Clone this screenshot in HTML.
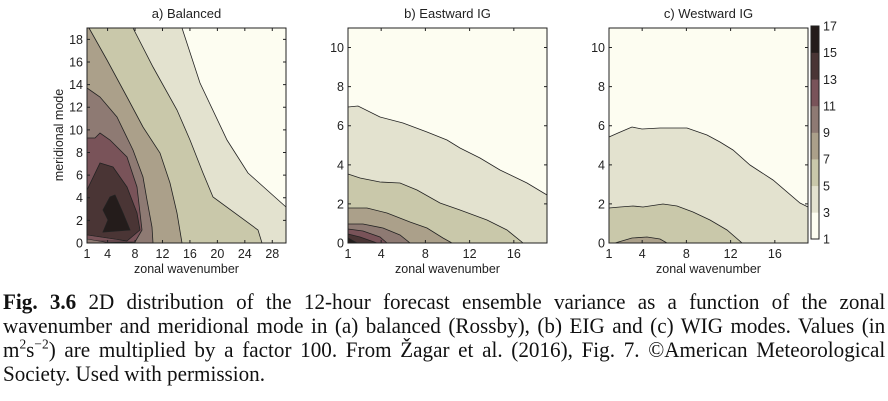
<!DOCTYPE html>
<html><head><meta charset="utf-8"><style>
body{margin:0;width:888px;height:401px;background:#fff;overflow:hidden;position:relative}
svg{position:absolute;left:0;top:0}
svg text{font-family:"Liberation Sans",sans-serif;fill:#222}
.cap{position:absolute;left:3px;width:919px;height:24px;overflow:hidden;transform:scaleX(0.96);transform-origin:0 0;font-family:"Liberation Serif",serif;font-size:22px;line-height:24px;color:#111;white-space:nowrap}
.j{text-align:justify;text-align-last:justify;white-space:normal}
</style></head><body>
<svg id="s" width="888" height="280" viewBox="0 0 888 280">
<g id="pa">
<rect x="87" y="28" width="199" height="215" fill="#fdfdf1"/>
<polygon fill="#e3e2cf" stroke="#222" stroke-width="0.8" points="182,28 200,83 227,140 248,173 286,207 286,243 87,243 87,28"/>
<polygon fill="#c9c8aa" stroke="#222" stroke-width="0.8" points="133,28 153,67 177,110 190,140 203,173 213,197 258,230 262,243 87,243 87,28"/>
<polygon fill="#aba08a" stroke="#222" stroke-width="0.8" points="89,28 107,60 127,97 143,127 160,153 170,183 177,213 182,243 87,243 87,28"/>
<polygon fill="#8e7a73" stroke="#222" stroke-width="0.8" points="87,88 100,97 117,117 133,150 143,177 147,200 152,227 153,243 87,243"/>
<polygon fill="#795359" stroke="#222" stroke-width="0.8" points="87,138 95,138 100,133 110,140 127,157 137,187 142,230 135,242 87,243"/>
<polygon fill="#4a3535" stroke="#222" stroke-width="0.8" points="87,190 100,163 113,167 127,187 137,213 140,230 127,241 87,235"/>
<polygon fill="#241c1b" stroke="#222" stroke-width="0.8" points="103,210 110,197 115,195 123,213 130,230 103,232 108,220"/>
<polygon fill="#795359" stroke="#222" stroke-width="0.6" points="87,235 127,241 87,241"/>
<polygon fill="#8e7a73" stroke="#222" stroke-width="0.6" points="87,239 110,243 87,243"/>
</g>
<g id="pb">
<rect x="348" y="28" width="199" height="215" fill="#fdfdf1"/>
<polygon fill="#e3e2cf" stroke="#222" stroke-width="0.8" points="348,107 358,106 380,117 403,123 427,132 447,140 460,148 480,158 500,170 527,183 547,195 547,243 348,243"/>
<polygon fill="#c9c8aa" stroke="#222" stroke-width="0.8" points="348,174 360,178 380,182 400,183 417,190 440,203 460,210 487,220 507,230 523,243 348,243"/>
<polygon fill="#aba08a" stroke="#222" stroke-width="0.8" points="348,208 367,208 387,213 410,222 427,228 443,238 452,243 348,243"/>
<polygon fill="#8e7a73" stroke="#222" stroke-width="0.8" points="348,224 363,224 383,228 400,235 410,243 348,243"/>
<polygon fill="#795359" stroke="#222" stroke-width="0.8" points="348,229 363,231 380,237 387,243 348,243"/>
<polygon fill="#4a3535" stroke="#222" stroke-width="0.8" points="348,234 360,237 377,243 348,243"/>
<polygon fill="#241c1b" stroke="#222" stroke-width="0.8" points="348,238 357,243 348,243"/>
</g>
<g id="pc">
<rect x="609" y="28" width="199" height="215" fill="#fdfdf1"/>
<polygon fill="#e3e2cf" stroke="#222" stroke-width="0.8" points="609,137 618,133 632,127 642,129 660,128 687,128 707,135 720,142 733,150 750,165 773,180 800,203 808,207 808,243 609,243"/>
<polygon fill="#c9c8aa" stroke="#222" stroke-width="0.8" points="609,208 620,207 633,206 643,207 663,204 677,206 693,212 710,220 727,230 742,243 609,243"/>
<polygon fill="#aba08a" stroke="#222" stroke-width="0.8" points="615,243 632,238 647,237 660,239 667,243"/>
</g>
<g id="cb"></g>
<g id="ax" fill="none" stroke="#222" stroke-width="1"></g>
<g id="tx" font-size="12.5"></g>
</svg>
<div class="cap j" style="top:290px"><b>Fig. 3.6</b> 2D distribution of the 12-hour forecast ensemble variance as a function of the zonal</div>
<div class="cap j" style="top:314px">wavenumber and meridional mode in (a) balanced (Rossby), (b) EIG and (c) WIG modes. Values (in</div>
<div class="cap j" style="top:338px">m<sup style="font-size:14px;line-height:0">2</sup>s<sup style="font-size:14px;line-height:0">−2</sup>) are multiplied by a factor 100. From Žagar et al. (2016), Fig. 7. ©American Meteorological</div>
<div class="cap" style="top:362px">Society. Used with permission.</div>
<script>
var NS="http://www.w3.org/2000/svg";
function el(p,t,a,txt){var e=document.createElementNS(NS,t);for(var k in a)e.setAttribute(k,a[k]);if(txt!==undefined)e.textContent=txt;document.getElementById(p).appendChild(e);return e;}
var cols=["#fdfdf1","#e3e2cf","#c9c8aa","#aba08a","#8e7a73","#795359","#4a3535","#241c1b"];
var cb0=26,cb1=239,h=(cb1-cb0)/8;
for(var i=0;i<8;i++)el("cb","rect",{x:811,y:cb1-(i+1)*h,width:8,height:h+0.3,fill:cols[i]});
el("cb","rect",{x:811,y:cb0,width:8,height:cb1-cb0,fill:"none",stroke:"#222","stroke-width":1});
for(var v=1;v<=17;v+=2){var y=cb1-(v-1)/16*(cb1-cb0);el("tx","text",{x:823,y:y+4.5},v);}
function panel(x0,xmax,xt,ymax,yt,title,ylab){
 var w=199,hh=215,y0=28,yb=243;
 el("ax","rect",{x:x0,y:y0,width:w,height:hh});
 xt.forEach(function(v){var x=x0+(v-1)/(xmax-1)*w;el("ax","path",{d:"M"+x+" "+yb+"v-3M"+x+" "+y0+"v3"});el("tx","text",{x:x,y:yb+15,"text-anchor":"middle"},v);});
 yt.forEach(function(v){var y=yb-v/ymax*hh;el("ax","path",{d:"M"+x0+" "+y+"h3M"+(x0+w)+" "+y+"h-3"});el("tx","text",{x:x0-4,y:y+4.5,"text-anchor":"end"},v);});
 el("tx","text",{x:x0+w/2,y:18,"text-anchor":"middle","font-size":"13"},title);
 el("tx","text",{x:x0+w/2,y:273,"text-anchor":"middle","font-size":"12.5"},"zonal wavenumber");
 if(ylab)el("tx","text",{x:0,y:0,"text-anchor":"middle","font-size":"12.5",transform:"translate(63,135) rotate(-90)"},ylab);
}
panel(87,30,[1,4,8,12,16,20,24,28],19,[0,2,4,6,8,10,12,14,16,18],"a) Balanced","meridional mode");
panel(348,19,[1,4,8,12,16],11,[0,2,4,6,8,10],"b) Eastward IG");
panel(609,19,[1,4,8,12,16],11,[0,2,4,6,8,10],"c) Westward IG");
</script>
</body></html>
